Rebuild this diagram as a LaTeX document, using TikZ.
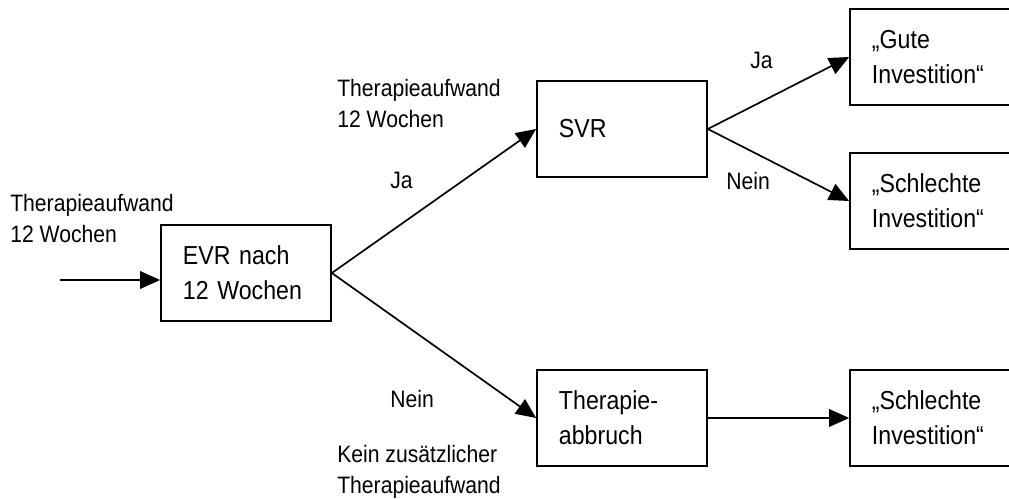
\documentclass[tikz,border=0pt]{standalone}
\usepackage{fontspec}
\setmainfont{Liberation Sans}[FakeStretch=0.89]
\usetikzlibrary{arrows.meta}

\begin{document}
\begin{tikzpicture}[x=0.025cm, y=-0.025cm]
	\tikzstyle{box} = [rectangle, draw=black, line width=1.2pt, minimum width=4.25cm, minimum height=2.4cm, text width=3.15cm, inner xsep=0.55cm, align=left, font=\fontsize{18.5}{24.9}\selectfont];
	\tikzstyle{lbl} = [inner sep=0pt, anchor=north west, align=left, font=\fontsize{16.9}{22}\selectfont];
	\tikzstyle{pfeil} = [line width=1.2pt, -{Triangle[length=0.5cm,width=0.44cm]}];
	\useasboundingbox (0,0) rectangle (1009,499);
	% Entscheidungsbaum
	\node (evr) [box] at (246,273) {EVR nach\\12 Wochen};
	\node (svr) [box] at (622,129) {SVR};
	\node (abbruch) [box] at (622,418) {Therapie-\\abbruch};
	\node (gut) [box] at (935,57) {„Gute\\Investition“};
	\node (schlecht) [box] at (935,201) {„Schlechte\\Investition“};
	\node (schlechtab) [box] at (935,418) {„Schlechte\\Investition“};
	\coordinate (start) at (60,280);
	% Beschriftungen
	\node (aufwandein) [lbl] at (10,194) {Therapieaufwand\\12 Wochen};
	\node (aufwandsvr) [lbl] at (337,79) {Therapieaufwand\\12 Wochen};
	\node (jaevr) [lbl] at (390,172) {Ja};
	\node (neinevr) [lbl] at (390,390) {Nein};
	\node (keinaufwand) [lbl] at (337,445) {Kein zusätzlicher\\Therapieaufwand};
	\node (jasvr) [lbl] at (750,52) {Ja};
	\node (neinsvr) [lbl] at (726,172) {Nein};
	% Pfeile
	\draw [pfeil] (start) -- (start -| evr.west);
	\draw [pfeil] (evr.east) -- (svr.west);
	\draw [pfeil] (evr.east) -- (abbruch.west);
	\draw [pfeil] (svr.east) -- (gut.west);
	\draw [pfeil] (svr.east) -- (schlecht.west);
	\draw [pfeil] (abbruch.east) -- (schlechtab.west);
\end{tikzpicture}
\end{document}
